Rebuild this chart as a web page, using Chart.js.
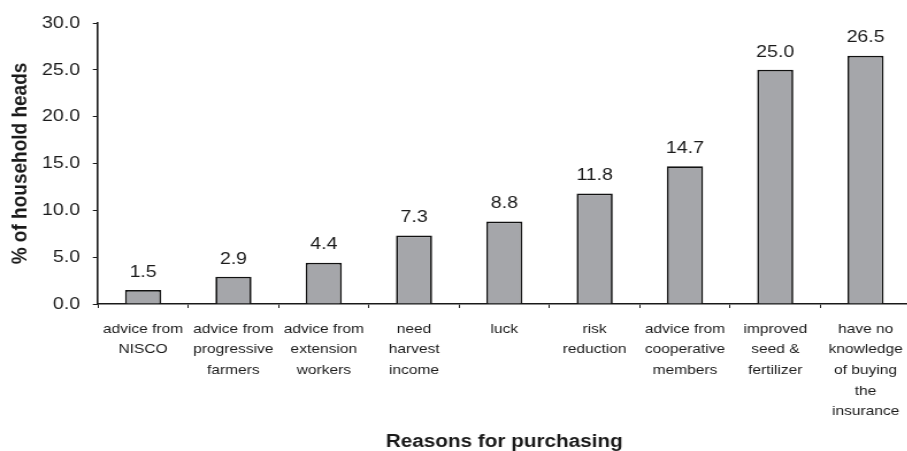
<!DOCTYPE html>
<html>
<head>
<meta charset="utf-8">
<script src="https://cdn.jsdelivr.net/npm/chart.js@4/dist/chart.umd.min.js"></script>
<style>
  html, body { margin: 0; padding: 0; background: #fff; overflow: hidden; }
  #wrap { width: 907px; height: 451px; overflow: hidden; position: relative; }
  /* the figure is drawn slightly condensed and widened to the page width */
  canvas { display: block; transform: scaleX(1.15); transform-origin: 0 0; }
</style>
</head>
<body>
<div id="wrap"><canvas id="c" width="796" height="451"></canvas></div>
<script>
// Reasons for purchasing insurance, share of household heads (%)
const categories = [
  ['advice from', 'NISCO'],
  ['advice from', 'progressive', 'farmers'],
  ['advice from', 'extension', 'workers'],
  ['need', 'harvest', 'income'],
  ['luck'],
  ['risk', 'reduction'],
  ['advice from', 'cooperative', 'members'],
  ['improved', 'seed &', 'fertilizer'],
  ['have no', 'knowledge', 'of buying', 'the', 'insurance']
];
const shares = [1.5, 2.9, 4.4, 7.3, 8.8, 11.8, 14.7, 25.0, 26.5];
const yTicks = [0, 5, 10, 15, 20, 25, 30];
const xTitle = 'Reasons for purchasing';

const FONT = "'Liberation Sans', Arial, sans-serif";
const INK = '#1a1a1a';

// Value labels above each bar, plus the category-axis title under the labels
const annotations = {
  id: 'annotations',
  afterDatasetsDraw(chart) {
    const ctx = chart.ctx;
    const meta = chart.getDatasetMeta(0);
    ctx.save();
    ctx.font = '17px ' + FONT;
    ctx.fillStyle = INK;
    ctx.textAlign = 'center';
    ctx.textBaseline = 'middle';
    meta.data.forEach((bar, i) => {
      ctx.fillText(shares[i].toFixed(1), bar.x, bar.y - 18);
    });
    const area = chart.chartArea;
    ctx.font = 'bold 18px ' + FONT;
    ctx.textBaseline = 'alphabetic';
    ctx.fillText(xTitle, (area.left + area.right) / 2, chart.height - 4);
    ctx.restore();
  }
};

new Chart(document.getElementById('c'), {
  type: 'bar',
  data: {
    labels: categories,
    datasets: [{
      data: shares,
      backgroundColor: '#a5a6aa',
      borderColor: '#111',
      borderWidth: 1.7,
      borderSkipped: 'bottom',
      barPercentage: 0.4,
      categoryPercentage: 1.0
    }]
  },
  options: {
    responsive: false,
    animation: false,
    devicePixelRatio: 1,
    layout: { padding: { top: 23, right: 1, left: 0, bottom: 0 } },
    plugins: {
      legend: { display: false },
      tooltip: { enabled: false }
    },
    scales: {
      x: {
        grid: {
          display: true,
          offset: true,
          drawOnChartArea: false,
          drawTicks: true,
          tickLength: 4,
          color: INK,
          lineWidth: 1
        },
        border: { display: true, color: INK, width: 1.6 },
        ticks: {
          color: INK,
          font: { family: FONT, size: 13.5, lineHeight: 1.52 },
          padding: 11,
          maxRotation: 0,
          autoSkip: false
        },
        afterFit(scale) { scale.height = 147; }
      },
      y: {
        min: 0,
        max: 30,
        afterBuildTicks(scale) { scale.ticks = yTicks.map(v => ({ value: v })); },
        grid: {
          display: true,
          drawOnChartArea: false,
          drawTicks: true,
          tickLength: 4.5,
          color: INK,
          lineWidth: 1
        },
        border: { display: true, color: INK, width: 1.6 },
        ticks: {
          color: INK,
          font: { family: FONT, size: 17 },
          padding: 11,
          callback: v => Number(v).toFixed(1)
        },
        title: {
          display: true,
          text: '% of household heads',
          color: INK,
          font: { family: FONT, size: 19, weight: 'bold' },
          padding: { top: 6, bottom: 0 }
        },
        afterFit(scale) { scale.width = 85.2; }
      }
    }
  },
  plugins: [annotations]
});
</script>
</body>
</html>
